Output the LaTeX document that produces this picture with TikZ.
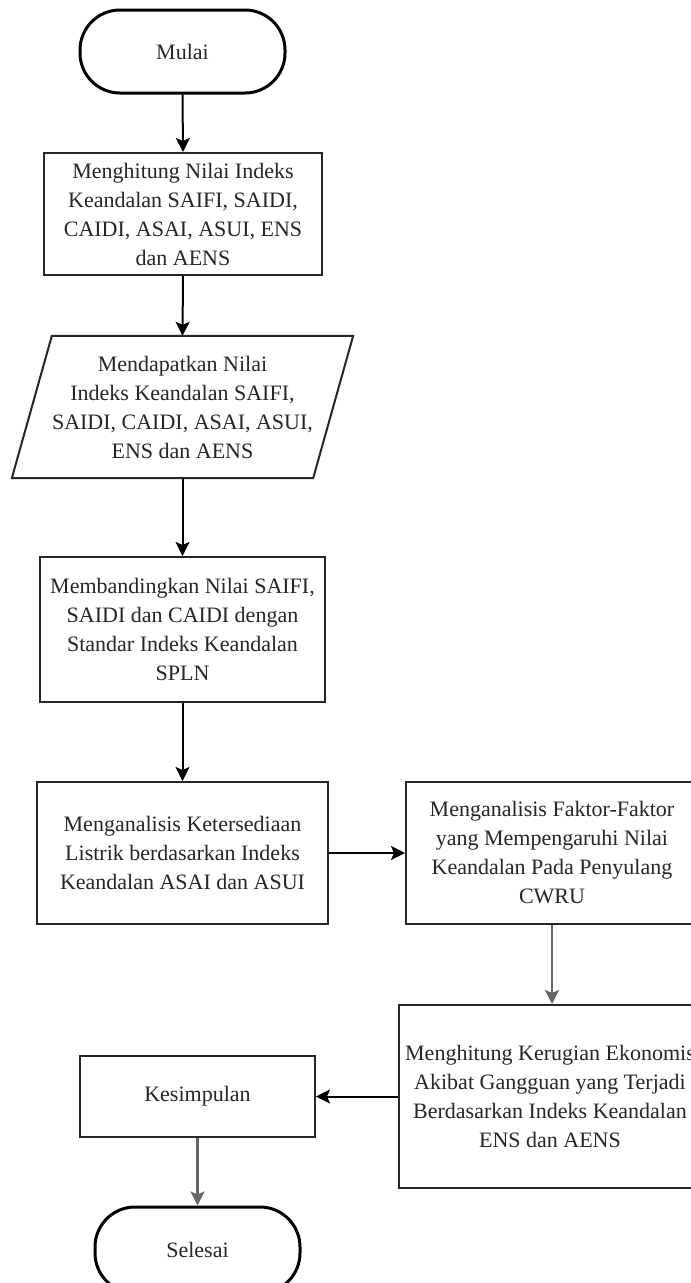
\documentclass[tikz,border=0pt]{standalone}
\usepackage{fontspec}
\setmainfont{Liberation Serif}
\usetikzlibrary{arrows.meta,calc}
\begin{document}
\begin{tikzpicture}[x=1pt,y=-1pt,
  every node/.style={font=\fontsize{22}{29}\selectfont, text=black!85, align=center, inner sep=0pt},
  term/.style={draw=black, line width=3pt, rounded corners=40pt, minimum width=205pt},
  procbox/.style={draw=black!85, line width=2pt},
  arr/.style={draw=black, line width=2pt, -{Stealth[length=14pt,width=14pt,inset=3pt]}},
  garr/.style={draw=black!60, line width=2.5pt, -{Stealth[length=14pt,width=14pt,inset=3pt]}}
]
\useasboundingbox (0,0) rectangle (691,1283);
\clip (0,0) rectangle (691,1283);
\fill[white] (0,0) rectangle (691,1283);

\node[term, minimum height=83pt] (mulai) at (182.5,51.5) {Mulai};
\node[procbox, minimum width=278pt, minimum height=122pt] (b1) at (183,214)
  {Menghitung Nilai Indeks\\Keandalan SAIFI, SAIDI,\\CAIDI, ASAI, ASUI, ENS\\dan AENS};
\node[minimum width=259pt, minimum height=142pt] (p) at (182.5,407)
  {Mendapatkan Nilai\\Indeks Keandalan SAIFI,\\SAIDI, CAIDI, ASAI, ASUI,\\ENS dan AENS};
\draw[procbox] (p.north west) -- ($(p.north east)+(40,0)$) -- (p.south east) -- ($(p.south west)+(-40,0)$) -- cycle;
\node[procbox, minimum width=285pt, minimum height=145pt] (b2) at (182.5,629.5)
  {Membandingkan Nilai SAIFI,\\SAIDI dan CAIDI dengan\\Standar Indeks Keandalan\\SPLN};
\node[procbox, minimum width=291pt, minimum height=142pt] (b3) at (182.5,853)
  {Menganalisis Ketersediaan\\Listrik berdasarkan Indeks\\Keandalan ASAI dan ASUI};
\node[procbox, minimum width=292pt, minimum height=142pt] (b4) at (552,853)
  {Menganalisis Faktor-Faktor\\yang Mempengaruhi Nilai\\Keandalan Pada Penyulang\\CWRU};
\node[procbox, minimum width=302pt, minimum height=183pt] (b5) at (550,1096.5)
  {Menghitung Kerugian Ekonomis\\Akibat Gangguan yang Terjadi\\Berdasarkan Indeks Keandalan\\ENS dan AENS};
\node[procbox, minimum width=235pt, minimum height=81pt] (kes) at (197.5,1096.5) {Kesimpulan};
\node[term, minimum height=86pt] (selesai) at (197.5,1250) {Selesai};

\draw[arr] (mulai.south) -- (b1.north);
\draw[arr] (b1.south) -- (p.north);
\draw[arr] (p.south) -- (b2.north);
\draw[arr] (b2.south) -- (b3.north);
\draw[arr] (b3.east) -- (b4.west);
\draw[garr] (b4.south) -- (b4.south |- b5.north);
\draw[arr] (b5.west) -- (kes.east);
\draw[garr] (kes.south) -- (selesai.north);
\end{tikzpicture}
\end{document}
